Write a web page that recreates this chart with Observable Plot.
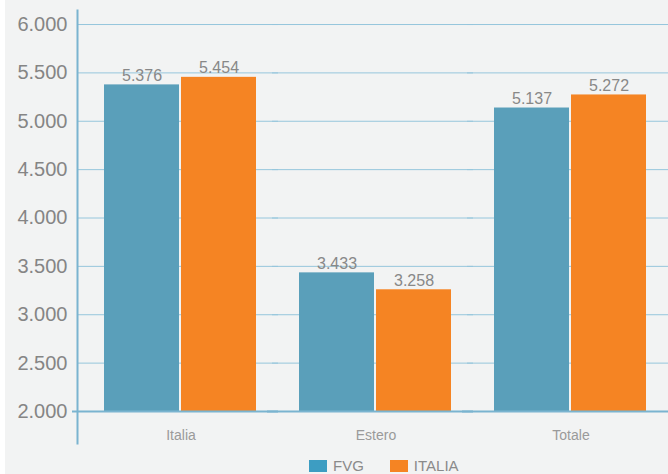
<!DOCTYPE html>
<html>
<head>
<meta charset="utf-8">
<script src="https://cdn.jsdelivr.net/npm/d3@7"></script>
<script src="https://cdn.jsdelivr.net/npm/@observablehq/plot@0.6"></script>
<style>
  html, body { margin: 0; padding: 0; background: #ffffff; }
  #wrap { margin-left: 5px; width: 663px; height: 474px; background: #f2f3f3; font-family: "Liberation Sans", Arial, sans-serif; overflow: hidden; }
  #legend { display: flex; align-items: center; margin-left: 304px; margin-top: 7px; font-size: 15px; color: #8a8a8a; }
  #legend .item { display: flex; align-items: center; margin-right: 26px; }
  #legend .sw { width: 18px; height: 12px; margin-right: 6px; }
</style>
</head>
<body>
<div id="wrap"><div id="chart"></div><div id="legend"></div></div>
<script>
const categories = ["Italia", "Estero", "Totale"];
const series = ["FVG", "ITALIA"];
const fvgValues = [5376, 3433, 5137];
const italiaValues = [5454, 3258, 5272];
const yTicks = [2000, 2500, 3000, 3500, 4000, 4500, 5000, 5500, 6000];
const barColors = ["#5a9fba", "#f58423"];
const legendColors = ["#3d9dc2", "#f58423"];

const data = categories.flatMap((c, i) => [
  {cat: c, series: series[0], value: fvgValues[i]},
  {cat: c, series: series[1], value: italiaValues[i]}
]);

const locale = d3.formatLocale({decimal: ",", thousands: ".", grouping: [3], currency: ["€", ""]});
const fmt = locale.format(",d");

const chart = Plot.plot({
  width: 663,
  height: 450,
  marginLeft: 78,
  marginRight: 0,
  marginTop: 10,
  marginBottom: 7,
  style: {background: "transparent", fontFamily: "'Liberation Sans', Arial, sans-serif"},
  fx: {domain: categories, padding: 0, label: null},
  x: {domain: series, paddingInner: 0.0256, paddingOuter: 0.263, axis: null},
  y: {domain: [1669, 6145]},
  color: {domain: series, range: barColors},
  marks: [
    Plot.gridY(yTicks, {stroke: "#96c6dc", strokeOpacity: 1, strokeWidth: 1, insetLeft: -6}),
    Plot.barY(data, {fx: "cat", x: "series", y1: 2000, y2: "value", fill: "series"}),
    Plot.ruleY([2000], {stroke: "#7ab4d0", strokeWidth: 2, insetLeft: -11}),
    Plot.frame({anchor: "left", facetAnchor: "left", stroke: "#7ab4d0", strokeWidth: 2, dx: -6}),
    Plot.axisY(yTicks, {anchor: "left", tickSize: 0, tickPadding: 16, tickFormat: fmt, fontSize: 20, fill: "#858585", label: null}),
    Plot.axisFx({anchor: "bottom", tickSize: 0, dy: -22, fontSize: 14, fill: "#9a9a9a", label: null}),
    Plot.text(data, {fx: "cat", x: "series", y: "value", text: d => fmt(d.value), lineAnchor: "bottom", dy: -4, fontSize: 16, fill: "#888888"})
  ]
});
document.getElementById("chart").appendChild(chart);

const legend = document.getElementById("legend");
series.forEach((s, i) => {
  const item = document.createElement("div");
  item.className = "item";
  const sw = document.createElement("div");
  sw.className = "sw";
  sw.style.background = legendColors[i];
  const t = document.createElement("span");
  t.textContent = s;
  item.appendChild(sw);
  item.appendChild(t);
  legend.appendChild(item);
});
</script>
</body>
</html>
